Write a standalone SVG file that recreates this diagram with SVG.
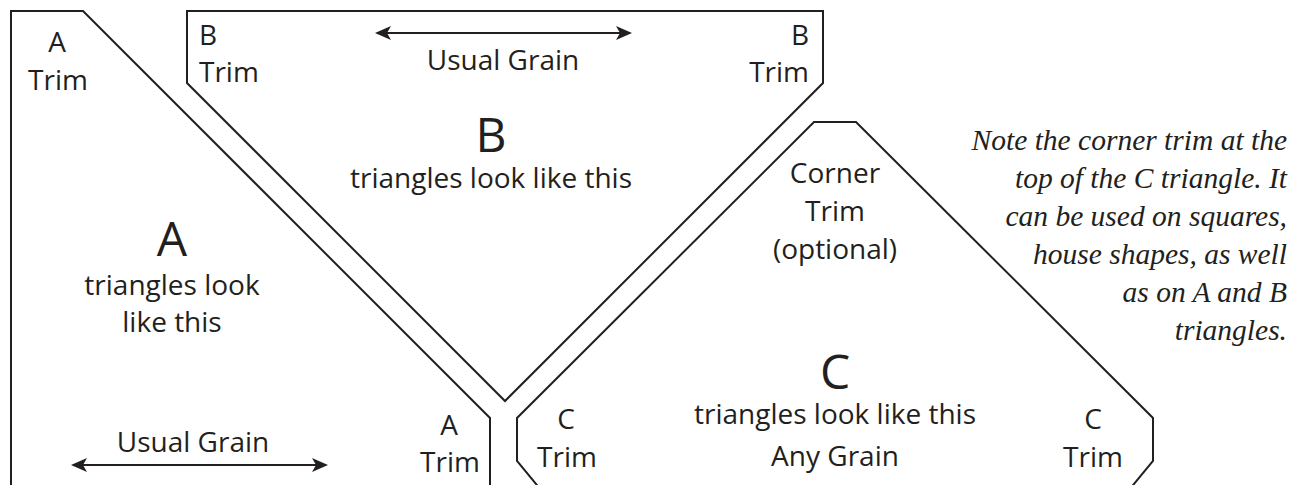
<svg xmlns="http://www.w3.org/2000/svg" width="1308" height="485" viewBox="0 0 1308 485">
<style>
.shape{fill:none;stroke:#231f20;stroke-width:2;stroke-linejoin:miter}
.t{font-family:"Open Sans","Liberation Sans",sans-serif;font-size:28px;fill:#231f20}
.big{font-family:"Open Sans","Liberation Sans",sans-serif;font-size:48px;fill:#231f20}
.note{font-family:"Liberation Serif",serif;font-style:italic;font-size:29.5px;fill:#231f20;text-anchor:end}
.c{text-anchor:middle}
.arr{stroke:#231f20;stroke-width:2;fill:none}
</style>
<defs>
<marker id="ah" viewBox="0 0 16 14" refX="14" refY="7" markerWidth="16" markerHeight="14" markerUnits="userSpaceOnUse" orient="auto-start-reverse">
<path d="M0,0 L16,7 L0,14 L4,7 Z" fill="#231f20"/>
</marker>
</defs>
<rect width="1308" height="485" fill="#fff"/>
<g id="nodeA">
<path class="shape" d="M11,490 L11,11 L83,11 L490,418 L490,490"/>
<text class="t c" x="57" y="52">A</text>
<text class="t c" x="58" y="90">Trim</text>
<text class="big c" x="172" y="256">A</text>
<text class="t c" x="172" y="295">triangles look</text>
<text class="t c" x="172" y="332">like this</text>
<text class="t c" x="449" y="435">A</text>
<text class="t c" x="450" y="472">Trim</text>
<text class="t c" x="193" y="452">Usual Grain</text>
</g>
<g id="nodeB">
<path class="shape" d="M187,11 L823,11 L823,83 L505,401 L187,83 Z"/>
<text class="t" x="199" y="45">B</text>
<text class="t" x="199" y="82">Trim</text>
<text class="t" x="809" y="45" text-anchor="end">B</text>
<text class="t" x="809" y="82" text-anchor="end">Trim</text>
<text class="t c" x="503" y="70">Usual Grain</text>
<text class="big c" x="491" y="152">B</text>
<text class="t c" x="491" y="188">triangles look like this</text>
</g>
<g id="nodeC">
<path class="shape" d="M541,490 L517,461 L517,418 L814,122 L856,122 L1153,418 L1153,461 L1129,490"/>
<text class="t c" x="835" y="183">Corner</text>
<text class="t c" x="835" y="221">Trim</text>
<text class="t c" x="835" y="259">(optional)</text>
<text class="big c" x="835" y="389">C</text>
<text class="t c" x="835" y="424">triangles look like this</text>
<text class="t c" x="835" y="466">Any Grain</text>
<text class="t c" x="566" y="429">C</text>
<text class="t c" x="567" y="467">Trim</text>
<text class="t c" x="1093" y="429">C</text>
<text class="t c" x="1093" y="467">Trim</text>
</g>
<g id="connectors">
<line class="arr" x1="377" y1="33" x2="630" y2="33" marker-start="url(#ah)" marker-end="url(#ah)"/>
<line class="arr" x1="73" y1="465" x2="326" y2="465" marker-start="url(#ah)" marker-end="url(#ah)"/>
</g>
<g id="note">
<text class="note" x="1287" y="150">Note the corner trim at the</text>
<text class="note" x="1287" y="188">top of the C triangle. It</text>
<text class="note" x="1287" y="226">can be used on squares,</text>
<text class="note" x="1287" y="264">house shapes, as well</text>
<text class="note" x="1287" y="302">as on A and B</text>
<text class="note" x="1287" y="340">triangles.</text>
</g>
</svg>
